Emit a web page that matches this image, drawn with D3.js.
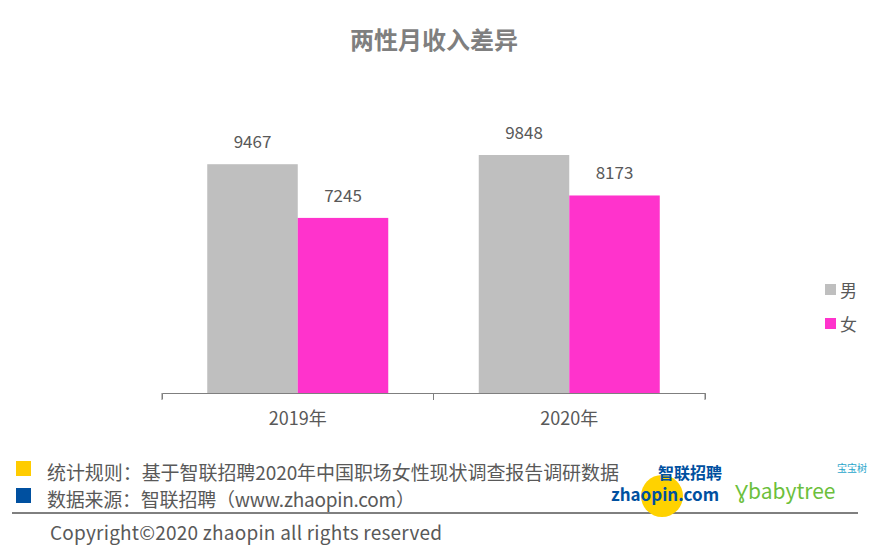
<!DOCTYPE html><html><head><meta charset="utf-8"><script src="https://cdn.jsdelivr.net/npm/d3@7"></script>
<style>body{margin:0;background:#fff}text{font-family:"Noto Sans CJK SC","Open Sans",sans-serif}</style></head><body>
<svg id="c" width="877" height="552"></svg>
<script>
const categories=["2019年","2020年"];
const seriesNames=["男","女"];
const male=[9467,9848];
const female=[7245,8173];
const colors=["#BFBFBF","#FF33CC"];
const svg=d3.select("#c");
svg.append("text").attr("x",434).attr("y",49).attr("text-anchor","middle").attr("font-size",24).attr("font-weight","bold").attr("fill","#7f7f7f").text("两性月收入差异");
const x=d3.scaleBand().domain(categories).range([162,705]);
const xs=d3.scaleBand().domain(seriesNames).range([0,x.bandwidth()]).paddingInner(0).paddingOuter(0.5);
const y=d3.scaleLinear().domain([0,9848]).range([393,155]);
const data=[male,female];
seriesNames.forEach((s,si)=>{
  const g=svg.append("g");
  g.selectAll("rect").data(categories).join("rect")
   .attr("x",c=>x(c)+xs(s)).attr("y",(c,i)=>y(data[si][i])).attr("width",xs.bandwidth()).attr("height",(c,i)=>393-y(data[si][i])).attr("fill",colors[si]);
  g.selectAll("text").data(categories).join("text")
   .attr("x",c=>x(c)+xs(s)+xs.bandwidth()/2).attr("y",(c,i)=>y(data[si][i])-16).attr("text-anchor","middle").attr("font-size",17).attr("fill","#595959").attr("font-family","Open Sans").text((c,i)=>data[si][i]);
});
const ax=svg.append("g").attr("transform","translate(0,393)").call(d3.axisBottom(x).tickSize(6).tickSizeOuter(6));
ax.select(".domain").attr("stroke","#7f7f7f");
ax.selectAll(".tick line").remove();
[162,433.5,705].forEach(v=>svg.append("line").attr("x1",v).attr("x2",v).attr("y1",393).attr("y2",400).attr("stroke","#7f7f7f"));
ax.selectAll(".tick text").attr("font-size",18).attr("fill","#595959").attr("dy","1.25em").attr("font-family","Noto Sans CJK SC");
seriesNames.forEach((s,i)=>{
  svg.append("rect").attr("x",825).attr("y",284+i*34).attr("width",11).attr("height",11).attr("fill",colors[i]);
  svg.append("text").attr("x",840).attr("y",297+i*34).attr("font-size",17).attr("fill","#595959").text(s);
});
svg.append("rect").attr("x",16).attr("y",461).attr("width",15).attr("height",15).attr("fill","#FFCC00");
svg.append("rect").attr("x",16).attr("y",488).attr("width",15).attr("height",15).attr("fill","#0050A0");
svg.append("text").attr("x",47).attr("y",480).attr("font-size",19).attr("fill","#595959").attr("textLength",572).text("统计规则：基于智联招聘2020年中国职场女性现状调查报告调研数据");
svg.append("text").attr("x",47).attr("y",507).attr("font-size",19).attr("fill","#595959").attr("textLength",368).text("数据来源：智联招聘（www.zhaopin.com）");
svg.append("line").attr("x1",12).attr("x2",858).attr("y1",513).attr("y2",513).attr("stroke","#000");
svg.append("text").attr("x",50).attr("y",540).attr("font-size",19).attr("fill","#595959").attr("font-family","Open Sans").attr("textLength",392).text("Copyright©2020 zhaopin all rights reserved");
svg.append("circle").attr("cx",662).attr("cy",496).attr("r",21).attr("fill","#FFD200");
svg.append("text").attr("x",690).attr("y",479).attr("text-anchor","middle").attr("font-size",16).attr("font-weight","bold").attr("fill","#0050A0").text("智联招聘");
svg.append("text").attr("x",665).attr("y",501).attr("text-anchor","middle").attr("font-size",17).attr("font-weight","bold").attr("fill","#0050A0").attr("font-family","Liberation Sans").text("zhaopin.com");
svg.append("text").attr("x",735).attr("y",499).attr("font-size",21).attr("fill","#6CBF3C").attr("font-family","Liberation Sans").text("Ɣbabytree");
svg.append("text").attr("x",837).attr("y",472).attr("font-size",10).attr("fill","#2BA6CB").text("宝宝树");
</script></body></html>
